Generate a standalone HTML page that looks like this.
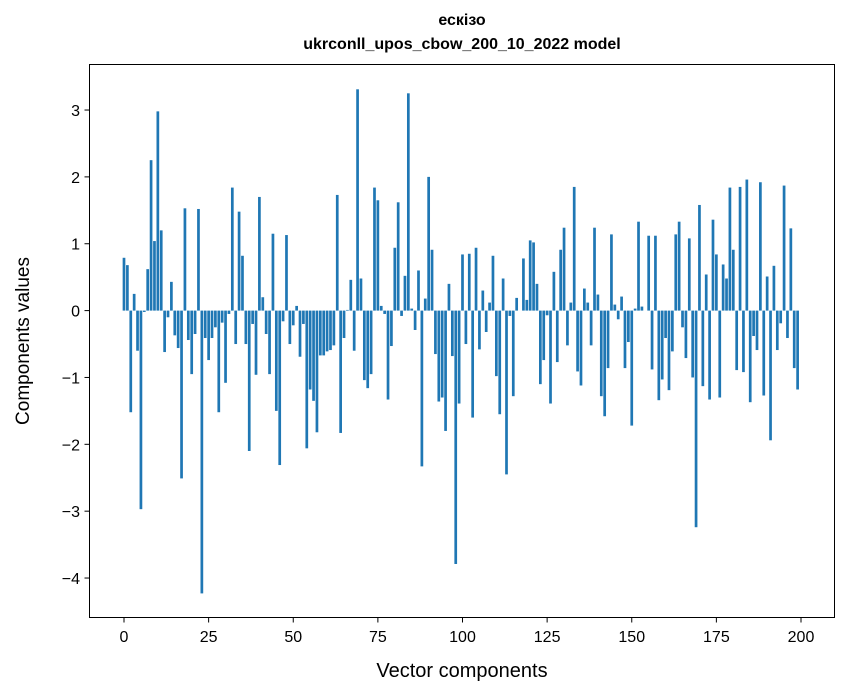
<!DOCTYPE html>
<html><head><meta charset="utf-8"><style>
body{margin:0;background:#fff}
svg{display:block;font-family:"Liberation Sans",sans-serif}
</style></head><body>
<svg id="chart" width="847" height="696" viewBox="0 0 847 696" xmlns="http://www.w3.org/2000/svg">
<rect width="847" height="696" fill="#fff"/>
<text x="462" y="25" text-anchor="middle" font-size="16" font-weight="bold">ескізо</text>
<text x="462" y="49" text-anchor="middle" font-size="16" font-weight="bold">ukrconll_upos_cbow_200_10_2022 model</text>
<g id="bars"></g>
<g id="xticks"></g>
<g id="yticks"></g>
<rect x="89.5" y="64.5" width="745" height="553" fill="none" stroke="#000" stroke-width="1"/>
<text x="462" y="677" text-anchor="middle" font-size="20">Vector components</text>
<text transform="translate(29,341) rotate(-90)" text-anchor="middle" font-size="19">Components values</text>
</svg>
<script>
const values = [0.79,0.68,-1.52,0.25,-0.6,-2.97,-0.02,0.62,2.25,1.04,2.98,1.2,-0.62,-0.1,0.43,-0.37,-0.56,-2.51,1.53,-0.44,-0.95,-0.35,1.52,-4.23,-0.41,
-0.74,-0.41,-0.25,-1.52,-0.18,-1.08,-0.05,1.84,-0.5,1.48,0.82,-0.5,-2.1,-0.2,-0.96,1.7,0.2,-0.35,-0.95,1.15,-1.5,-2.31,-0.16,1.13,-0.5,
-0.22,0.07,-0.69,-0.2,-2.06,-1.18,-1.35,-1.82,-0.67,-0.67,-0.61,-0.59,-0.52,1.73,-1.83,-0.41,0.01,0.46,-0.6,3.31,0.48,-1.04,-1.16,-0.95,1.84,
1.65,0.07,-0.05,-1.33,-0.53,0.94,1.62,-0.08,0.52,3.25,0.03,-0.29,0.6,-2.33,0.18,2.0,0.91,-0.65,-1.36,-1.3,-1.8,0.4,-0.68,-3.79,-1.39,
0.84,-0.5,0.85,-1.6,0.94,-0.58,0.3,-0.32,0.12,0.82,-0.98,-1.55,0.48,-2.45,-0.08,-1.28,0.19,0.0,0.78,0.16,1.05,1.02,0.4,-1.1,-0.74,
-0.07,-1.39,0.58,-0.77,0.91,1.24,-0.52,0.12,1.85,-0.91,-1.12,0.33,0.12,-0.52,1.24,0.24,-1.28,-1.58,-0.86,1.14,0.09,-0.13,0.21,-0.86,-0.47,
-1.72,0.03,1.33,0.06,0.0,1.12,-0.88,1.12,-1.34,-1.03,-0.41,-1.19,-0.61,1.14,1.33,-0.25,-0.71,1.08,-1.0,-3.24,1.58,-1.13,0.54,-1.33,1.36,
0.84,-1.3,0.69,0.48,1.84,0.91,-0.89,1.85,-0.92,1.96,-1.37,-0.38,-0.59,1.92,-1.27,0.51,-1.94,0.67,-0.59,-0.19,1.87,-0.41,1.23,-0.86,-1.18];
const xTicks = [0,25,50,75,100,125,150,175,200];
const yTicks = [-4,-3,-2,-1,0,1,2,3];
const NS="http://www.w3.org/2000/svg";
function xs(v){return 124+v*(677/200);}
function ys(v){return 310.6-v*(468/7);}
const bw=0.8*677/200;
const gb=document.getElementById('bars');
values.forEach((v,i)=>{
  const r=document.createElementNS(NS,'rect');
  
  
  const y0=ys(0),y1=ys(v);
  r.setAttribute('x',xs(i)-bw/2);
  r.setAttribute('y',Math.min(y0,y1));
  r.setAttribute('width',bw);
  r.setAttribute('height',Math.max(0.01,Math.abs(y1-y0)));
  r.setAttribute('fill','#1f77b4');
  gb.appendChild(r);
});
const gx=document.getElementById('xticks');
xTicks.forEach(t=>{
  const l=document.createElementNS(NS,'line');
  
  
  l.setAttribute('x1',xs(t));l.setAttribute('x2',xs(t));
  l.setAttribute('y1',617.5);l.setAttribute('y2',622.5);
  l.setAttribute('stroke','#000');
  gx.appendChild(l);
  const tx=document.createElementNS(NS,'text');
  
  
  tx.setAttribute('x',xs(t));tx.setAttribute('y',642);
  tx.setAttribute('text-anchor','middle');tx.setAttribute('font-size','16');
  tx.textContent=t;
  gx.appendChild(tx);
});
const gy=document.getElementById('yticks');
yTicks.forEach(t=>{
  const l=document.createElementNS(NS,'line');
  
  
  l.setAttribute('x1',84.5);l.setAttribute('x2',89.5);
  l.setAttribute('y1',ys(t));l.setAttribute('y2',ys(t));
  l.setAttribute('stroke','#000');
  gy.appendChild(l);
  const tx=document.createElementNS(NS,'text');
  
  
  tx.setAttribute('x',80);tx.setAttribute('y',ys(t)+6);
  tx.setAttribute('text-anchor','end');tx.setAttribute('font-size','16');
  tx.textContent=t<0?'\u2212'+Math.abs(t):String(t);
  gy.appendChild(tx);
});
</script>
</body></html>
